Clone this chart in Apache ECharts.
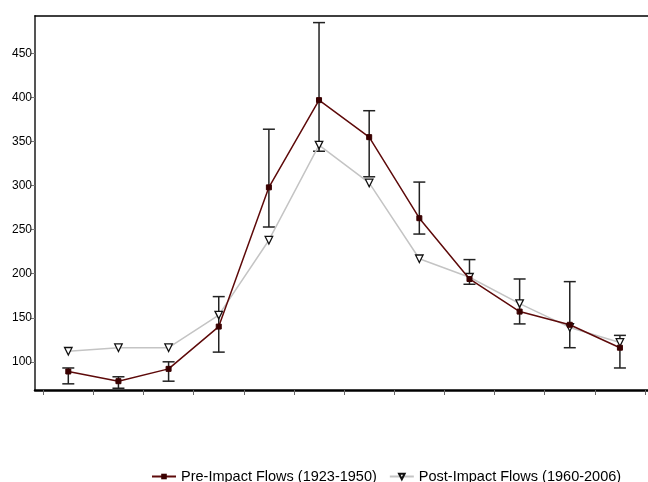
<!DOCTYPE html>
<html>
<head>
<meta charset="utf-8">
<script src="https://cdn.jsdelivr.net/npm/echarts@6/dist/echarts.min.js"></script>
<style>html,body{margin:0;padding:0;background:#fff}#c{width:648px;height:482px}</style>
</head>
<body>
<div id="c"></div>
<script>
// Data
var categories = ['1','2','3','4','5','6','7','8','9','10','11','12'];
var preFlow  = [89, 78, 92, 140, 298, 397, 355, 263, 194, 157, 142, 116];
var preUpper = [93, 83, 100, 174, 364, 485, 385, 304, 216, 194, 191, 130];
var preLower = [75, 70, 78, 111, 253, 339, 310, 245, 188, 143, 116, 93];
var postFlow = [112, 116, 116, 153, 238, 346, 303, 217, 196, 166, 139, 122];
var yTicks = [100, 150, 200, 250, 300, 350, 400, 450];
var xBoundaries = [-0.5, 0.5, 1.5, 2.5, 3.5, 4.5, 5.5, 6.5, 7.5, 8.5, 9.5, 10.5, 11.5];

var preData = categories.map(function (c, i) { return [i, preFlow[i]]; });
var postData = categories.map(function (c, i) { return [i, postFlow[i]]; });
var errData = categories.map(function (c, i) { return [i, preLower[i], preUpper[i]]; });

var chart = echarts.init(document.getElementById('c'), null, {renderer: 'canvas'});
chart.setOption({
  animation: false,
  textStyle: {fontFamily: 'Liberation Sans, Arial, sans-serif'},
  grid: {left: 35, right: 0, top: 16, bottom: 92},
  xAxis: [{
    type: 'value', min: -0.664, max: 11.56,
    axisLine: {show: true, onZero: false, lineStyle: {color: '#000', width: 2.5}},
    axisTick: {show: true, customValues: xBoundaries, length: 5, lineStyle: {color: '#666', width: 1}},
    axisLabel: {show: false},
    splitLine: {show: false}
  }, {
    type: 'value', position: 'top', min: -0.664, max: 11.56,
    axisLine: {show: true, onZero: false, lineStyle: {color: '#000', width: 1.5}},
    axisTick: {show: false}, axisLabel: {show: false}, splitLine: {show: false}
  }],
  yAxis: {
    type: 'value', min: 68, max: 492.5,
    axisLine: {show: true, onZero: false, lineStyle: {color: '#555', width: 2}},
    axisTick: {show: true, customValues: yTicks, length: 4, lineStyle: {color: '#777'}},
    axisLabel: {customValues: yTicks, fontSize: 12, color: '#000', margin: 3},
    splitLine: {show: false}
  },
  legend: {
    left: 146, top: 464,
    itemWidth: 24, itemHeight: 7, itemGap: 12,
    textStyle: {fontSize: 14.5, color: '#000', fontFamily: 'Liberation Sans, Arial, sans-serif'},
    data: ['Pre-Impact Flows (1923-1950)', 'Post-Impact Flows (1960-2006)']
  },
  series: [{
    type: 'custom',
    name: 'err',
    z: 1,
    data: errData,
    renderItem: function (params, api) {
      var x = api.value(0);
      var lo = api.coord([x, api.value(1)]);
      var hi = api.coord([x, api.value(2)]);
      var hw = 6;
      var style = {stroke: '#222', lineWidth: 1.5};
      return {
        type: 'group',
        children: [
          {type: 'line', shape: {x1: lo[0], y1: lo[1], x2: hi[0], y2: hi[1]}, style: style},
          {type: 'line', shape: {x1: hi[0] - hw, y1: hi[1], x2: hi[0] + hw, y2: hi[1]}, style: style},
          {type: 'line', shape: {x1: lo[0] - hw, y1: lo[1], x2: lo[0] + hw, y2: lo[1]}, style: style}
        ]
      };
    }
  }, {
    type: 'line',
    name: 'Post-Impact Flows (1960-2006)',
    z: 2,
    data: postData,
    lineStyle: {color: '#c4c4c4', width: 1.5},
    symbol: 'triangle', symbolSize: 7.5, symbolRotate: 180,
    itemStyle: {color: '#fff', borderColor: '#111', borderWidth: 1.3}
  }, {
    type: 'line',
    name: 'Pre-Impact Flows (1923-1950)',
    z: 3,
    data: preData,
    lineStyle: {color: '#5e0a0a', width: 1.5},
    symbol: 'rect', symbolSize: 5,
    itemStyle: {color: '#3a0000', borderColor: '#3a0000'}
  }]
});
</script>
</body>
</html>
